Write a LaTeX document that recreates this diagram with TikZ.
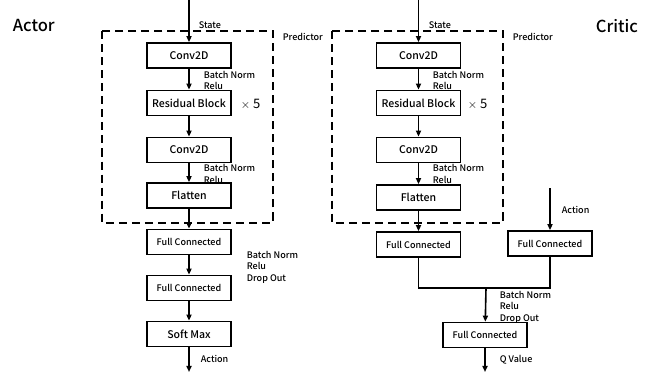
\documentclass[tikz,border=0pt]{standalone}
\usepackage{fontspec}
\setmainfont{Noto Sans CJK SC}[BoldFont = {Noto Sans CJK SC Medium}]
\usetikzlibrary{shapes,arrows.meta}
\tikzset{%
	layer/.style    	= {draw, line width = 1.6pt, rectangle, minimum height = 25, minimum width = 84, inner sep = 0pt, font = \fontsize{10.5}{12}\selectfont\bfseries},
	fclayer/.style  	= {layer, font = \fontsize{9}{10}\selectfont\bfseries},
	note/.style     	= {right, inner sep = 0pt, align = left, font = \fontsize{9}{11.5}\selectfont\bfseries}, % Side notes
	title/.style    	= {right, inner sep = 0pt, font = \fontsize{16.5}{18}\selectfont\bfseries},
	predictor/.style	= {draw, line width = 1.6pt, dash pattern = on 8pt off 5pt},
	input/.style    	= {coordinate}, % Input
	output/.style   	= {coordinate} % Output
}

\begin{document}
\begin{tikzpicture}[x = 0.035cm, y = -0.035cm, line width = 1.6pt, >={Triangle[length = 6pt, width = 5pt]}]
	\useasboundingbox (0, 0) rectangle (649, 374);
	\draw % Drawing the actor
	node at (12, 26) [title] (actor) {Actor}
	node at (189, 0) [input] (astate) {}
	node at (189, 55.5) [layer] (aconv1) {Conv2D}
	node at (189, 103) [layer] (ares) {Residual Block}
	node at (189, 150) [layer] (aconv2) {Conv2D}
	node at (189, 195.5) [layer] (aflat) {Flatten}
	node at (189, 242) [fclayer] (afc1) {Full Connected}
	node at (189, 288) [fclayer] (afc2) {Full Connected}
	node at (189, 334) [layer] (asoft) {Soft Max}
	node at (189, 372) [output] (aaction) {}
	node at (198, 25) [note] {State}
	node at (282, 37) [note] {Predictor}
	node at (203, 80.5) [note] {Batch Norm\\Relu}
	node at (240, 104) [right, inner sep = 0pt, font = \fontsize{13}{15}\selectfont] {$\times$ 5}
	node at (203, 174) [note] {Batch Norm\\Relu}
	node at (246, 267) [note] {Batch Norm\\Relu\\Drop Out}
	node at (200, 359) [note] {Action}
	;
	\draw[predictor] (102, 31) rectangle (273, 223);
	
	\draw % Drawing the critic
	node at (595, 26) [title] (critic) {Critic}
	node at (418.5, 0) [input] (cstate) {}
	node at (418.5, 55.5) [layer] (cconv1) {Conv2D}
	node at (418.5, 103) [layer] (cres) {Residual Block}
	node at (418.5, 150) [layer] (cconv2) {Conv2D}
	node at (418.5, 197.5) [layer] (cflat) {Flatten}
	node at (418.5, 244.5) [fclayer] (cfc1) {Full Connected}
	node at (550, 188) [input] (caction) {}
	node at (550, 243.5) [fclayer] (cfc2) {Full Connected}
	node at (486, 288) [input] (merge) {}
	node at (485, 335) [fclayer] (cfc3) {Full Connected}
	node at (485, 372) [output] (qvalue) {}
	node at (428, 25) [note] {State}
	node at (512, 37) [note] {Predictor}
	node at (432, 80.5) [note] {Batch Norm\\Relu}
	node at (467, 104) [right, inner sep = 0pt, font = \fontsize{13}{15}\selectfont] {$\times$ 5}
	node at (432, 174) [note] {Batch Norm\\Relu}
	node at (561, 210) [note] {Action}
	node at (499, 307) [note] {Batch Norm\\Relu\\Drop Out}
	node at (499, 360) [note] {Q Value}
	;
	\draw[predictor] (332, 31) rectangle (503, 223);
	
	% Drawing the arrows
	\draw[->] (astate) -- (aconv1);
	\draw[->] (aconv1) -- (ares);
	\draw[->] (ares) -- (aconv2);
	\draw[->] (aconv2) -- (aflat);
	\draw[->] (aflat) -- (afc1);
	\draw[->] (afc1) -- (afc2);
	\draw[->] (afc2) -- (asoft);
	\draw[->] (asoft) -- (aaction);
	\draw[->] (cstate) -- (cconv1);
	\draw[->] (cconv1) -- (cres);
	\draw[->] (cres) -- (cconv2);
	\draw[->] (cconv2) -- (cflat);
	\draw[->] (cflat) -- (cfc1);
	\draw[->] (caction) -- (cfc2);
	\draw (cfc1) |- (merge) -| (cfc2);
	\draw[->] (merge) -- (cfc3);
	\draw[->] (cfc3) -- (qvalue);
\end{tikzpicture}
\end{document}
